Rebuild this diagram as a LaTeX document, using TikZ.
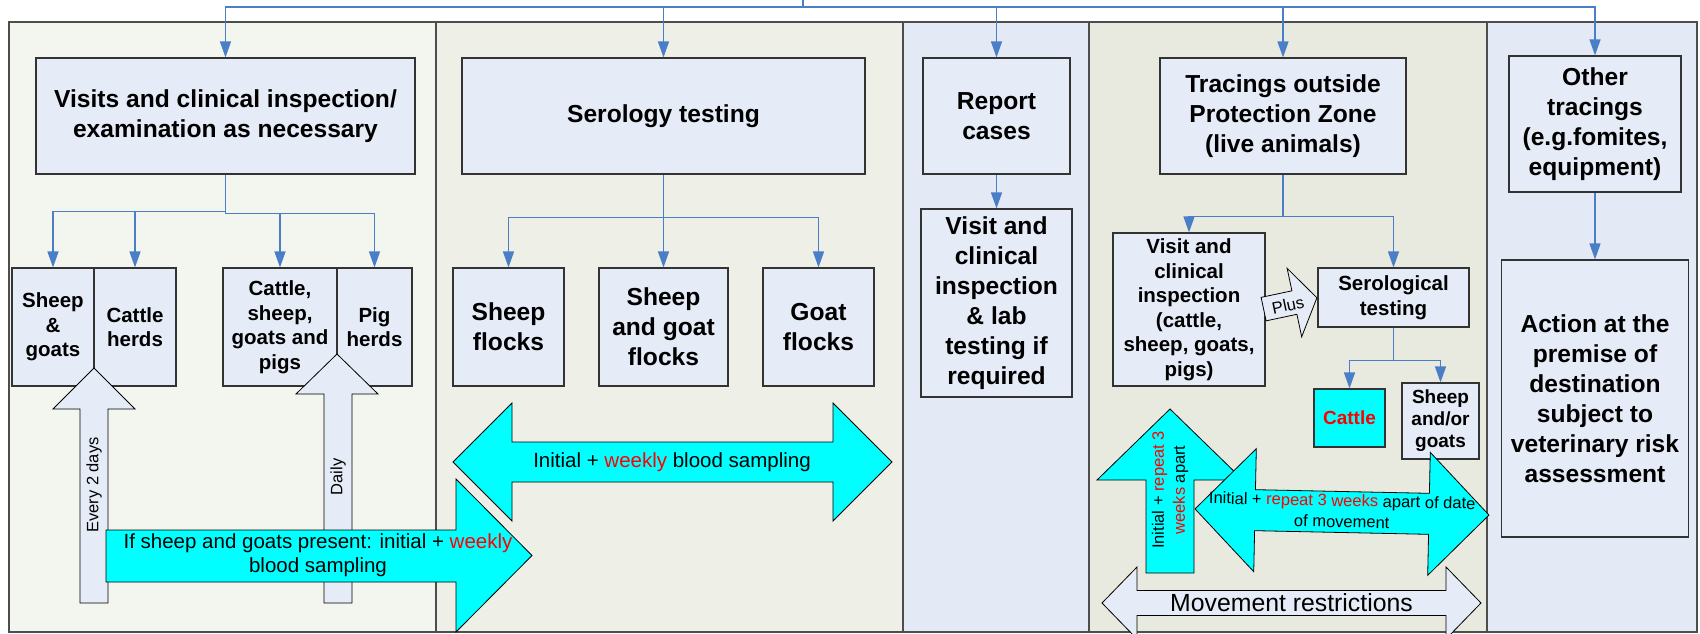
\documentclass[tikz,border=0pt]{standalone}
\usepackage{fontspec}
\setmainfont{Liberation Sans}
\usepackage{tikz}
\usetikzlibrary{arrows.meta}
\definecolor{laneA}{HTML}{F3F5EF}
\definecolor{laneB}{HTML}{EEEFE6}
\definecolor{laneC}{HTML}{E4EAF5}
\definecolor{laneD}{HTML}{E9EADF}
\definecolor{laneline}{HTML}{4D4D4D}
\definecolor{boxfill}{HTML}{E6ECF7}
\definecolor{boxline}{HTML}{333333}
\definecolor{connblue}{HTML}{4A7EC7}
\definecolor{aqua}{HTML}{00FFFF}
\definecolor{hotred}{HTML}{FF0000}
\tikzset{
  lane/.style={draw=laneline, line width=1.5pt},
  box/.style={draw=boxline, fill=boxfill, line width=1.1pt, align=center, inner sep=0pt,
    font=\fontsize{24.6}{30}\selectfont\bfseries},
  midbox/.style={box, font=\fontsize{20.5}{24.5}\selectfont\bfseries},
  smallbox/.style={box, font=\fontsize{19}{22}\selectfont\bfseries},
  bus/.style={draw=connblue, line width=1.3pt},
  conn/.style={bus, -{Triangle[width=11pt,length=16pt]}},
  cyanarrow/.style={draw=black, line width=0.8pt, fill=aqua},
  greyarrow/.style={draw=black, line width=0.8pt, fill=boxfill},
  arrowtext/.style={align=center, inner sep=0pt, font=\fontsize{20.5}{24}\selectfont},
  smalltext/.style={align=center, inner sep=0pt, font=\fontsize{16.5}{21}\selectfont},
}

\begin{document}
\begin{tikzpicture}[x=1pt,y=-1pt]
\useasboundingbox (0,0) rectangle (1700,634);
\path[fill=white] (0,0) rectangle (1700,634);

\path[lane, fill=laneA] (9,22) rectangle (436,632);
\path[lane, fill=laneB] (436,22) rectangle (903,632);
\path[lane, fill=laneC] (903,22) rectangle (1089,632);
\path[lane, fill=laneD] (1089,22) rectangle (1487,632);
\path[lane, fill=laneC] (1487,22) rectangle (1697,632);

\node[box, minimum width=379pt, minimum height=116pt] (visits) at (225.5,116) {Visits and clinical inspection/\\examination as necessary};
\node[midbox, minimum width=82pt, minimum height=118pt] (sheepgoats) at (53,327) {Sheep\\\&\\goats};
\node[midbox, minimum width=82pt, minimum height=118pt] (cattleherds) at (135,327) {Cattle\\herds};
\node[midbox, minimum width=114pt, minimum height=118pt] (mixedherds) at (280,327) {Cattle,\\sheep,\\goats and\\pigs};
\node[midbox, minimum width=75pt, minimum height=118pt] (pigherds) at (374.5,327) {Pig\\herds};

\node[box, minimum width=403pt, minimum height=116pt] (serology) at (663.5,116) {Serology testing};
\node[box, minimum width=111pt, minimum height=118pt] (sheepflocks) at (508.5,327) {Sheep\\flocks};
\node[box, minimum width=129pt, minimum height=118pt] (mixedflocks) at (663.5,327) {Sheep\\and goat\\flocks};
\node[box, minimum width=111pt, minimum height=118pt] (goatflocks) at (818.5,327) {Goat\\flocks};

\node[box, minimum width=147pt, minimum height=116pt] (report) at (996.5,116) {Report\\cases};
\node[box, minimum width=151pt, minimum height=188pt] (labvisit) at (996.5,303) {Visit and\\clinical\\inspection\\\& lab\\testing if\\required};

\node[box, minimum width=246pt, minimum height=116pt] (tracings) at (1283,116) {Tracings outside\\Protection Zone\\(live animals)};
\node[midbox, minimum width=152pt, minimum height=153pt] (tracevisit) at (1189,309.5) {Visit and\\clinical\\inspection\\(cattle,\\sheep, goats,\\pigs)};
\node[midbox, minimum width=151pt, minimum height=59pt] (serological) at (1393.5,297.5) {Serological\\testing};
\node[smallbox, fill=aqua, text=hotred, minimum width=71pt, minimum height=58pt] (cattle) at (1349.5,418) {Cattle};
\node[smallbox, minimum width=77pt, minimum height=76pt] (smallrum) at (1440.5,421) {Sheep\\and/or\\goats};

\node[box, minimum width=172pt, minimum height=136pt] (othertrace) at (1595,124) {Other\\tracings\\(e.g.fomites,\\equipment)};
\node[box, minimum width=187pt, minimum height=277pt] (action) at (1595,398.5) {Action at the\\premise of\\destination\\subject to\\veterinary risk\\assessment};

\coordinate (feed) at (803,0);
\coordinate (bus) at (803,7);
\draw[bus] (feed) -- (bus);
\foreach \n in {visits,serology,report,tracings,othertrace}
  \draw[conn] (bus) -| (\n.north);
\foreach \n in {sheepgoats,cattleherds}
  \draw[conn] (visits.south) -- ++(0,37) -| (\n.north);
\foreach \n in {mixedherds,pigherds}
  \draw[conn] (visits.south) -- ++(0,39) -| (\n.north);
\foreach \n in {sheepflocks,mixedflocks,goatflocks}
  \draw[conn] (serology.south) -- ++(0,43) -| (\n.north);
\draw[conn] (report) -- (labvisit);
\foreach \n in {tracevisit,serological}
  \draw[conn] (tracings.south) -- ++(0,42) -| (\n.north);
\foreach \n in {cattle,smallrum}
  \draw[conn] (serological.south) -- ++(0,33) -| (\n.north);
\draw[conn] (othertrace) -- (action);

\draw[greyarrow] (80,603) -- (80,409) -- (53,409) -- (94,368) -- (135,409) -- (108,409) -- (108,603) -- cycle;
\node[smalltext, rotate=90] (everytwo) at (94,485) {Every 2 days};
\draw[greyarrow] (324,603) -- (324,394) -- (296,394) -- (337,354) -- (378,394) -- (352,394) -- (352,603) -- cycle;
\node[smalltext, rotate=90] (daily) at (338,477) {Daily};

\draw[cyanarrow] (106,530) -- (456,530) -- (456,479) -- (532,555.5) -- (456,632) -- (456,582) -- (106,582) -- cycle;
\node[arrowtext] (herdsampling) at (318,555) {If sheep and goats present: initial + \textcolor{hotred}{weekly}\\blood sampling};

\draw[cyanarrow] (453,462) -- (512,403) -- (512,442) -- (833,442) -- (833,403) -- (892,462) -- (833,521) -- (833,482) -- (512,482) -- (512,521) -- cycle;
\node[arrowtext] (flocksampling) at (672,462) {Initial + \textcolor{hotred}{weekly} blood sampling};

\draw[cyanarrow] (1146,573) -- (1146,480) -- (1097,480) -- (1170,409) -- (1243,480) -- (1194,480) -- (1194,573) -- cycle;
\node[smalltext, rotate=90] (repeatup) at (1170,490) {Initial + \textcolor{hotred}{repeat 3}\\\textcolor{hotred}{weeks} apart};

\draw[cyanarrow, shift={(1342,512)}, rotate=-1.2] (-147,0) -- (-87,-61.5) -- (-87,-20.5) -- (87,-20.5) -- (87,-61.5) -- (147,0) -- (87,61.5) -- (87,20.5) -- (-87,20.5) -- (-87,61.5) -- cycle;
\node[smalltext, rotate=-1.2] (repeatmove) at (1342,511) {Initial + \textcolor{hotred}{repeat 3 weeks} apart of date\\of movement};

\draw[greyarrow, shift={(1291.5,603)}] (-189.5,0) -- (-154.5,-36) -- (-154.5,-12.5) -- (154.5,-12.5) -- (154.5,-36) -- (189.5,0) -- (154.5,36) -- (154.5,12.5) -- (-154.5,12.5) -- (-154.5,36) -- cycle;
\node[inner sep=0pt, font=\fontsize{24.8}{30}\selectfont] (movement) at (1291.5,603) {Movement restrictions};

\draw[greyarrow, shift={(1290,303.5)}, rotate=12] (-27,-12) -- (4.5,-12) -- (4.5,-35) -- (27.5,0) -- (4.5,35) -- (4.5,12) -- (-27,12) -- cycle;
\node[inner sep=0pt, rotate=12, font=\fontsize{16.6}{20}\selectfont] (plus) at (1288,305) {Plus};
\end{tikzpicture}
\end{document}
